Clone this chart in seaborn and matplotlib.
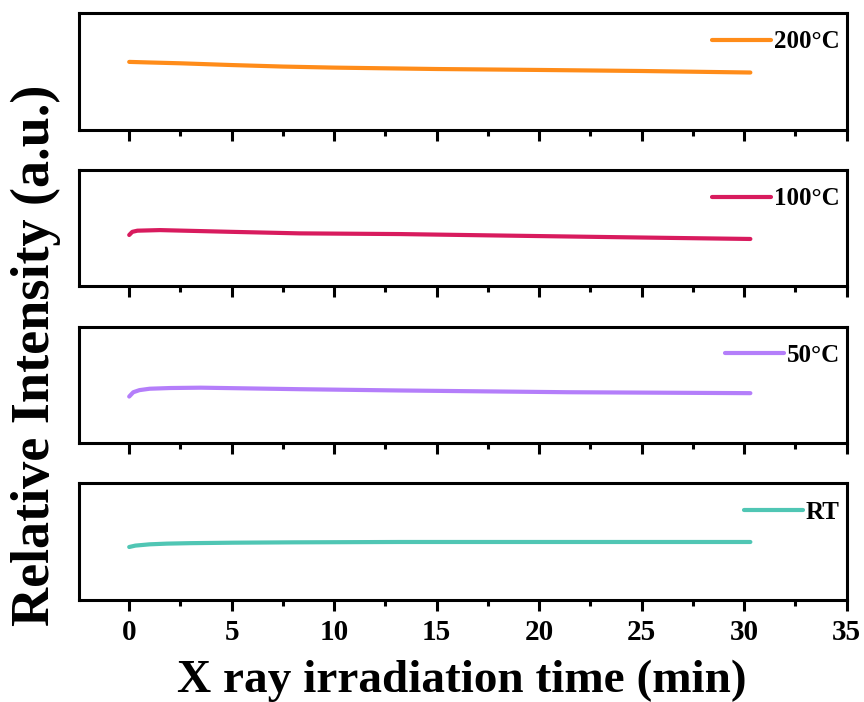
import numpy as np
import pandas as pd
import seaborn as sns
import matplotlib.pyplot as plt
from matplotlib.ticker import MultipleLocator

# values (relative intensity, arbitrary units)
t_200 = [0, 1, 2.5, 5, 7.5, 10, 15, 20, 25, 30.3]
i_200 = [0.581, 0.576, 0.569, 0.554, 0.541, 0.532, 0.520, 0.512, 0.503, 0.490]

t_100 = [0, 0.15, 0.4, 1.5, 5, 8.3, 13.2, 17.5, 22.3, 26, 30.3]
i_100 = [0.441, 0.468, 0.478, 0.483, 0.468, 0.455, 0.449, 0.438, 0.426, 0.417, 0.407]

t_50 = [0, 0.2, 0.5, 1, 2, 3.5, 8.3, 13.2, 21.4, 30.3]
i_50 = [0.400, 0.437, 0.455, 0.467, 0.473, 0.476, 0.463, 0.452, 0.437, 0.429]

t_rt = [0, 0.3, 1, 1.85, 3, 5.1, 8, 13.2, 20, 25, 30.3]
i_rt = [0.454, 0.466, 0.477, 0.483, 0.487, 0.491, 0.494, 0.497, 0.497, 0.497, 0.497]

labels = ['200°C', '100°C', '50°C', 'RT']
colors = ['#FF8C19', '#D81B5E', '#B47EFA', '#50C6B4']
times = [t_200, t_100, t_50, t_rt]
vals = [i_200, i_100, i_50, i_rt]

sns.set_style("ticks")
plt.rcParams['font.family'] = ['Liberation Serif', 'DejaVu Serif']
plt.rcParams['font.weight'] = 'bold'
plt.rcParams['text.color'] = 'black'
plt.rcParams['xtick.color'] = 'black'
plt.rcParams['xtick.labelcolor'] = 'black'

fig, axes = plt.subplots(4, 1, figsize=(8.64, 7.02), dpi=100, sharex=True)
fig.subplots_adjust(left=0.0914, right=0.980, top=0.9815, bottom=0.1453, hspace=0.343)

for ax, t, v, lab, c in zip(axes, times, vals, labels, colors):
    df = pd.DataFrame({'time': t, 'intensity': v})
    sns.lineplot(data=df, x='time', y='intensity', color=c, lw=3, ax=ax, label=lab)
    ax.set_ylim(0, 1)
    ax.set_xlim(-2.45, 35)
    ax.set_yticks([])
    ax.set_xlabel('')
    ax.set_ylabel('')
    for s in ax.spines.values():
        s.set_linewidth(2.2)
        s.set_color('black')
    ax.xaxis.set_major_locator(MultipleLocator(5))
    ax.xaxis.set_minor_locator(MultipleLocator(2.5))
    ax.tick_params(axis='x', which='major', length=8, width=2.2, direction='out', color='black')
    ax.tick_params(axis='x', which='minor', length=4, width=2.2, direction='out', color='black')
    leg = ax.legend(loc='upper right', bbox_to_anchor=(0.991, 0.85), frameon=False,
                    handlelength=2.35, handletextpad=0.12, borderpad=0, borderaxespad=0,
                    prop={'size': 18, 'weight': 'bold'})
    for txt in leg.get_texts():
        txt.set_color('black')

axes[-1].tick_params(axis='x', labelsize=21, pad=6)
for lbl in axes[-1].get_xticklabels():
    lbl.set_fontweight('bold')

fig.supxlabel('X ray irradiation time (min)', fontsize=34, fontweight='bold', x=0.535, y=0.0,
              color='black')
fig.supylabel('Relative Intensity (a.u.)', fontsize=39, fontweight='bold', x=0.012, y=0.494,
              color='black')

fig.savefig('out.png', dpi=100)
